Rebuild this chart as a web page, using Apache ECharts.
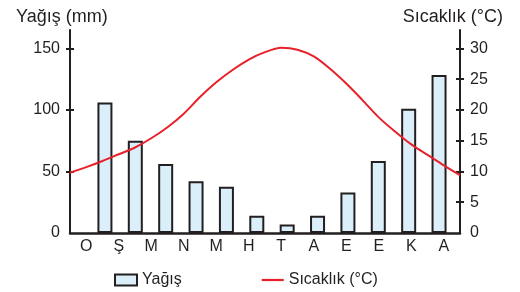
<!DOCTYPE html>
<html>
<head>
<meta charset="utf-8">
<script src="https://cdn.jsdelivr.net/npm/echarts@6/dist/echarts.min.js"></script>
<style>
  html, body { margin: 0; padding: 0; background: #fff; }
  #chart { width: 520px; height: 292px; }
</style>
</head>
<body>
<div id="chart"></div>
<script>
// aylar (Ocak -> Aralık)
const months = ['O', 'Ş', 'M', 'N', 'M', 'H', 'T', 'A', 'E', 'E', 'K', 'A'];
// yağış, mm
const rain = [106, 75, 56, 42, 37.5, 14, 7, 14, 33, 58.5, 101, 128.5];
// sıcaklık, °C - yarım ay aralıklarla okunan değerler (25 nokta)
const temp = [9.8, 10.7, 11.7, 12.8, 13.9, 15.4, 17.2, 19.4, 22.1, 24.5, 26.5, 28.2, 29.4,
              30.1, 29.8, 28.7, 26.7, 24.3, 21.6, 18.8, 16.5, 14.4, 12.7, 11.0, 9.4];
const rainTicks = [0, 50, 100, 150];
const tempTicks = [0, 5, 10, 15, 20, 25, 30];

const ink = '#231f20';
const red = '#e8202a';
const font = 'Liberation Sans, Arial, sans-serif';

const chart = echarts.init(document.getElementById('chart'));

// inside=true olan kopya eksen, çentiklerin eksen çizgisini kesmesi için
const tickAxis = (pos, max, interval, ticks, inside) => ({
  type: 'value',
  position: pos,
  min: 0,
  max: max,
  interval: interval,
  axisLine: { show: !inside, onZero: false, lineStyle: { color: ink, width: 2 } },
  axisTick: {
    show: true,
    inside: inside,
    length: 4,
    customValues: ticks.filter(v => v > 0),
    lineStyle: { color: ink, width: 2 }
  },
  axisLabel: {
    show: !inside,
    customValues: ticks,
    margin: 10,
    color: ink,
    fontSize: 16,
    fontFamily: font
  },
  splitLine: { show: false }
});

const option = {
  animation: false,
  title: [
    { text: 'Yağış (mm)', left: 11, top: 3, textStyle: { color: ink, fontSize: 18, fontWeight: 'normal', fontFamily: font } },
    { text: 'Sıcaklık (°C)', right: 12, top: 3, textStyle: { color: ink, fontSize: 18, fontWeight: 'normal', fontFamily: font } }
  ],
  legend: {
    left: 109,
    top: 267,
    itemWidth: 22,
    itemHeight: 11,
    itemGap: 80,
    textStyle: { color: ink, fontSize: 16, fontFamily: font },
    data: [
      { name: 'Yağış', icon: 'rect', itemStyle: { color: '#dbeffa', borderColor: ink, borderWidth: 2 } },
      { name: 'Sıcaklık (°C)', icon: 'path://M0,0L24,0L24,2.4L0,2.4Z', itemStyle: { color: red } }
    ]
  },
  grid: { left: 70, right: 60, top: 30, bottom: 59, outerBoundsMode: 'none' },
  xAxis: [
    {
      type: 'category',
      data: months,
      axisLine: { lineStyle: { color: ink, width: 2.5 } },
      axisTick: { show: false },
      axisLabel: { color: ink, fontSize: 16, fontFamily: font, margin: 6 }
    },
    // sütunlar için gizli eksen
    { type: 'value', min: -1.15, max: 11.69, show: false },
    // eğri için gizli eksen (yarım ay adımları)
    { type: 'value', min: 0, max: 24, show: false }
  ],
  yAxis: [
    tickAxis('left', 165, 50, rainTicks, false),
    tickAxis('right', 33, 5, tempTicks, false),
    tickAxis('left', 165, 50, rainTicks, true),
    tickAxis('right', 33, 5, tempTicks, true)
  ],
  series: [
    {
      name: 'Yağış',
      type: 'bar',
      xAxisIndex: 1,
      yAxisIndex: 0,
      barWidth: 15,
      data: rain.map((v, i) => [i, v]),
      itemStyle: { color: '#dbeffa', borderColor: ink, borderWidth: 2 }
    },
    {
      name: 'Sıcaklık (°C)',
      type: 'line',
      xAxisIndex: 2,
      yAxisIndex: 1,
      smooth: 0.3,
      symbol: 'none',
      data: temp.map((v, i) => [i, v]),
      lineStyle: { color: red, width: 2 },
      itemStyle: { color: red },
      z: 3
    }
  ]
};

chart.setOption(option);
</script>
</body>
</html>
